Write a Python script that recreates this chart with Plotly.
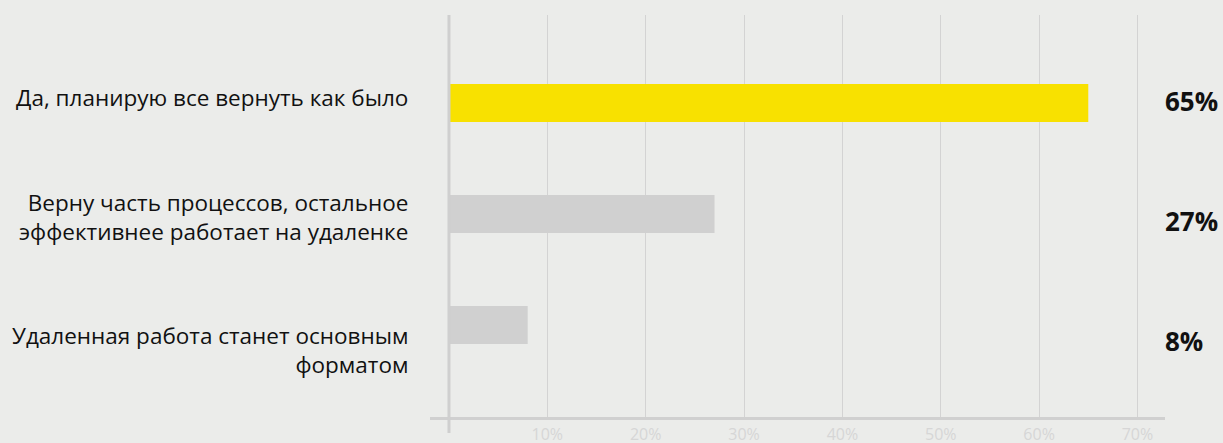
import plotly.graph_objects as go

categories = [
    "Да, планирую все вернуть как было",
    "Верну часть процессов, остальное<br>эффективнее работает на удаленке",
    "Удаленная работа станет основным<br>форматом",
]
values = [65, 27, 8]
value_labels = ["65%", "27%", "8%"]
tick_vals = [10, 20, 30, 40, 50, 60, 70]
tick_text = ["10%", "20%", "30%", "40%", "50%", "60%", "70%"]

bar_colors = ["#f8e100", "#d0d0d0", "#d0d0d0"]
bg = "#ebecea"
ypos = list(range(len(categories)))

fig = go.Figure()
fig.add_trace(go.Bar(
    x=values, y=ypos, orientation="h",
    marker=dict(color=bar_colors, line=dict(width=0)),
    width=0.342, hoverinfo="skip",
))

annotations = []
label_shift = [6, -3, -25]
for i, c in enumerate(categories):
    annotations.append(dict(
        x=0, xref="paper", xanchor="right", xshift=-20,
        y=ypos[i], yref="y", yanchor="middle", yshift=label_shift[i],
        text=c, showarrow=False, align="right",
        font=dict(family="Open Sans", size=22.5, color="#111111"),
    ))
value_shift = [2, -7, -16]
for i, v in enumerate(value_labels):
    annotations.append(dict(
        x=1, xref="paper", xanchor="left", xshift=-2,
        y=ypos[i], yref="y", yanchor="middle", yshift=value_shift[i],
        text="<b>" + v + "</b>", showarrow=False, align="left",
        font=dict(family="Open Sans", size=26, color="#111111"),
    ))

fig.update_layout(
    width=1223, height=443,
    margin=dict(l=430, r=58, t=15, b=26, autoexpand=False),
    paper_bgcolor=bg, plot_bgcolor=bg,
    showlegend=False,
    annotations=annotations,
    shapes=[dict(
        type="line", xref="x", yref="paper",
        x0=0, x1=0, y0=-0.04, y1=1,
        line=dict(color="#cfcfcf", width=3), layer="above",
    )],
    xaxis=dict(
        range=[-1.93, 72.8],
        tickvals=tick_vals, ticktext=tick_text,
        showgrid=True, gridcolor="#d3d3d3", gridwidth=1,
        zeroline=False, automargin=False,
        showline=True, linecolor="#d0d0d0", linewidth=3,
        ticks="", ticklabelstandoff=1,
        tickfont=dict(family="Open Sans", size=16, color="#d6d6d6"),
        fixedrange=True,
    ),
    yaxis=dict(
        range=[2.829, -0.793], automargin=False,
        showticklabels=False, showgrid=False, zeroline=False,
        showline=False, fixedrange=True,
    ),
)

fig.write_html("out.html")
